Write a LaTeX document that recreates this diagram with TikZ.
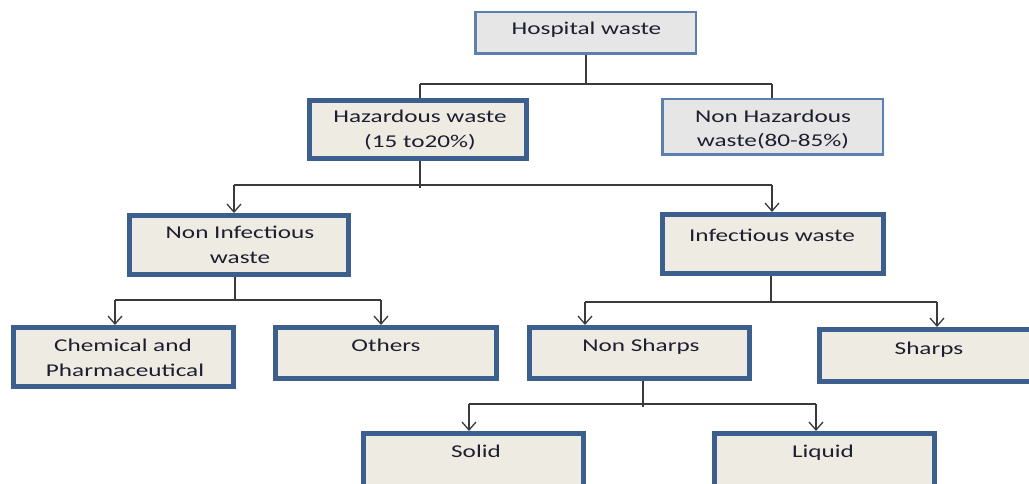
\documentclass[tikz,border=0pt]{standalone}
\usepackage{fontspec}
\setmainfont[FakeStretch=1.4]{Carlito}
\usetikzlibrary{arrows.meta}
\definecolor{thickb}{HTML}{3C5F8D}
\definecolor{thinb}{HTML}{5B80AE}
\definecolor{beige}{HTML}{EDEBE2}
\definecolor{lgray}{HTML}{E6E6E6}
\definecolor{txtc}{HTML}{1E1E30}
\definecolor{conc}{HTML}{3A3A3A}
\tikzset{
  thickbox/.style={draw=thickb, line width=5pt, fill=beige, inner sep=0pt},
  thinbox/.style={draw=thinb, line width=2.5pt, fill=lgray, inner sep=0pt},
  lbl/.style={anchor=base, inner sep=0pt, text=txtc, font=\fontsize{18}{25}\selectfont},
  conn/.style={draw=conc, line width=1.3pt},
  arr/.style={conn, -{Straight Barb[length=8pt,width=14pt,line width=1.3pt]}},
}
\begin{document}
\begin{tikzpicture}[x=1pt,y=-1pt]
\useasboundingbox (0,0) rectangle (1029,484);
\clip (0,0) rectangle (1029,484);
\fill[white] (0,0) rectangle (1029,484);
% boxes
\node[thinbox, minimum width=220.5pt, minimum height=41.5pt] (hosp) at (585.5,33) {};
\node[thickbox, minimum width=217pt, minimum height=58pt] (haz) at (418,129.5) {};
\node[thinbox, minimum width=220.5pt, minimum height=55.5pt] (nonhaz) at (772.5,127) {};
\node[thickbox, minimum width=219pt, minimum height=59pt] (noninf) at (239,245) {};
\node[thickbox, minimum width=221pt, minimum height=59pt] (inf) at (773,244) {};
\node[thickbox, minimum width=220pt, minimum height=59pt] (chem) at (123.5,357) {};
\node[thickbox, minimum width=221pt, minimum height=51pt] (others) at (386,353) {};
\node[thickbox, minimum width=220pt, minimum height=51pt] (nonsharp) at (639.5,353) {};
\node[thickbox, minimum width=220pt, minimum height=52pt] (sharps) at (929.5,355.5) {};
\node[thickbox, minimum width=220pt, minimum height=59pt] (solid) at (473.5,463) {};
\node[thickbox, minimum width=220pt, minimum height=59pt] (liquid) at (824.5,463) {};
% labels
\node[lbl] (t1) at (586.5,35) {Hospital waste};
\node[lbl] (t2a) at (420,123) {Hazardous waste};
\node[lbl] (t2b) at (420,148) {(15 to20\%)};
\node[lbl] (t3a) at (773,123) {Non Hazardous};
\node[lbl] (t3b) at (773,147) {waste(80-85\%)};
\node[lbl] (t4a) at (240,238.5) {Non Infectious};
\node[lbl] (t4b) at (240,263.5) {waste};
\node[lbl] (t5) at (772,241.5) {Infectious waste};
\node[lbl] (t6a) at (123,351) {Chemical and};
\node[lbl] (t6b) at (125,376) {Pharmaceutical};
\node[lbl] (t7) at (386,351) {Others};
\node[lbl] (t8) at (641,351) {Non Sharps};
\node[lbl] (t9) at (929,354) {Sharps};
\node[lbl] (t10) at (476,457) {Solid};
\node[lbl] (t11) at (823,457) {Liquid};
% junction coordinates
\coordinate (j1) at (586,84);
\coordinate (j1l) at (420,84);
\coordinate (j1r) at (772,84);
\coordinate (j2) at (420,188);
\coordinate (j2l) at (234,185);
\coordinate (j2r) at (772,185);
\coordinate (j3) at (235,300);
\coordinate (j3l) at (115,300);
\coordinate (j3r) at (381,300);
\coordinate (j4) at (771,302);
\coordinate (j4l) at (585,302);
\coordinate (j4r) at (937,302);
\coordinate (j5) at (643,407);
\coordinate (j5l) at (469,404);
\coordinate (j5r) at (816,404);
% connectors
\draw[conn] (hosp.south -| j1) -- (j1);
\draw[conn] (j1l) -- (j1r);
\draw[conn] (j1l) -- (j1l |- haz.north);
\draw[conn] (j1r) -- (j1r |- nonhaz.north);
\draw[conn] (haz.south -| j2) -- (j2);
\draw[conn] (j2l) -- (j2r);
\draw[arr] (j2l) -- (j2l |- noninf.north);
\draw[arr] (j2r) -- (j2r |- inf.north);
\draw[conn] (noninf.south -| j3) -- (j3);
\draw[conn] (j3l) -- (j3r);
\draw[arr] (j3l) -- (j3l |- chem.north);
\draw[arr] (j3r) -- (j3r |- others.north);
\draw[conn] (inf.south -| j4) -- (j4);
\draw[conn] (j4l) -- (j4r);
\draw[arr] (j4l) -- (j4l |- nonsharp.north);
\draw[arr] (j4r) -- (j4r |- sharps.north);
\draw[conn] (nonsharp.south -| j5) -- (j5);
\draw[conn] (j5l) -- (j5r);
\draw[arr] (j5l) -- (j5l |- solid.north);
\draw[arr] (j5r) -- (j5r |- liquid.north);
\end{tikzpicture}
\end{document}
